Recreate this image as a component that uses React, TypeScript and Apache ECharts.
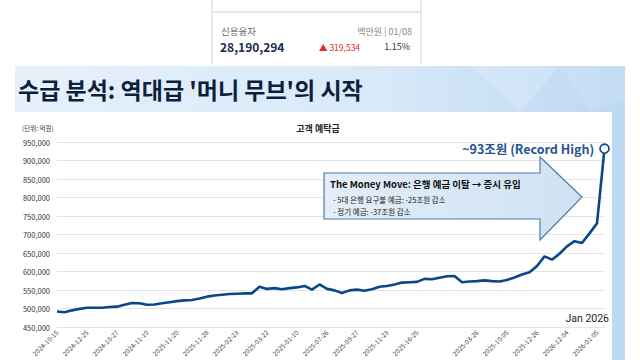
import React, { useEffect, useRef } from "react";
import * as echarts from "echarts";

const tickLabels = [
  "2024-10-15", "2024-12-25", "2024-10-27", "2024-11-10", "2025-11-20",
  "2025-11-28", "2025-02-23", "2025-03-22", "2025-01-10", "2025-07-26",
  "2025-09-27", "2025-11-23", "2025-16-25", "", "2025-03-26",
  "2025-10-05", "2025-12-26", "2026-12-04", "2026-01-05",
];

const deposits = [
  492000, 490000, 495000, 499000, 502000, 502000, 502000, 504000, 505000, 510000,
  515000, 514000, 510000, 511000, 514000, 517000, 520000, 522000, 523000, 527000,
  532000, 535000, 537000, 539000, 540000, 541000, 541000, 559000, 553000, 555000,
  552000, 555000, 557000, 561000, 551000, 565000, 553000, 549000, 542000, 549000,
  551000, 548000, 552000, 559000, 561000, 565000, 570000, 571000, 572000, 580000,
  579000, 583000, 587000, 588000, 571000, 573000, 574000, 576000, 574000, 573000,
  577000, 584000, 592000, 598000, 615000, 641000, 632000, 648000, 668000, 682000,
  677000, 703000, 730000, 932000,
];

const yTicks = { min: 450000, max: 950000, step: 50000 };

const FONT = "'Noto Sans CJK KR', 'Noto Sans', sans-serif";

export default function App() {
  const ref = useRef<HTMLDivElement>(null);
  useEffect(() => {
    if (!ref.current) return;
    const chart = echarts.init(ref.current, null, { renderer: "svg" });
    const categories = deposits.map((_, i) => String(i));
    const lastIdx = deposits.length - 1;
    const seriesData = deposits.map((v, i) =>
      i === lastIdx
        ? {
            value: v,
            symbol: "circle",
            symbolSize: 9,
            itemStyle: { color: "#ffffff", borderColor: "#0a4788", borderWidth: 1.6 },
            label: {
              show: true,
              position: "left",
              distance: 5,
              formatter: "~93조원 (Record High)",
              color: "#24558f",
              fontSize: 12.5,
              fontWeight: "bold",
              fontFamily: FONT,
            },
          }
        : { value: v, symbol: "none" }
    );

    chart.setOption({
      animation: false,
      backgroundColor: "#ffffff",
      textStyle: { fontFamily: FONT },
      grid: { left: 57, right: 35.5, top: 142, bottom: 33, containLabel: false },
      xAxis: {
        type: "category",
        data: categories,
        boundaryGap: false,
        axisLine: { show: false },
        axisTick: { show: false },
        axisLabel: {
          interval: 3,
          rotate: 45,
          fontSize: 6.5,
          color: "#444",
          margin: 4,
          formatter: (_v: string, idx: number) =>
            idx % 4 === 0 ? tickLabels[idx / 4] ?? "" : "",
        },
        splitLine: { show: false },
      },
      yAxis: {
        type: "value",
        min: yTicks.min,
        max: yTicks.max,
        interval: yTicks.step,
        axisLine: { show: false },
        axisTick: { show: false },
        axisLabel: {
          fontSize: 7.5,
          color: "#333",
          margin: 7,
          formatter: (v: number) => v.toLocaleString("en-US"),
        },
        splitLine: { lineStyle: { color: "#e4e4e4", width: 1 } },
      },
      series: [
        {
          type: "line",
          data: seriesData,
          showSymbol: true,
          showAllSymbol: true,
          clip: false,
          smooth: false,
          lineStyle: { color: "#0a4788", width: 2.6 },
          itemStyle: { color: "#0a4788" },
          labelLayout: { hideOverlap: false },
          z: 5,
        },
      ],
      graphic: [
        // top info box
        { type: "line", shape: { x1: 212, y1: 0, x2: 212, y2: 64 }, style: { stroke: "#c9d4e2", lineWidth: 1 }, z: -5 },
        { type: "line", shape: { x1: 421, y1: 0, x2: 421, y2: 64 }, style: { stroke: "#c9d4e2", lineWidth: 1 }, z: -5 },
        { type: "line", shape: { x1: 212, y1: 12, x2: 421, y2: 12 }, style: { stroke: "#e3e8ef", lineWidth: 2 }, z: -5 },
        { type: "text", x: 221, y: 31, style: { text: "신용융자", fontSize: 9.5, fill: "#666", fontFamily: FONT, verticalAlign: "middle" } },
        { type: "text", x: 220, y: 46.5, style: { text: "28,190,294", fontSize: 12, fontWeight: "bold", fill: "#1b2b4d", fontFamily: FONT, verticalAlign: "middle" } },
        { type: "text", x: 412, y: 31, style: { text: "백만원 | 01/08", fontSize: 9, fill: "#888", fontFamily: FONT, align: "right", verticalAlign: "middle" } },
        { type: "text", x: 319, y: 46.5, style: { text: "▲ 319,534", fontSize: 8.5, fill: "#e8262b", fontFamily: FONT, verticalAlign: "middle" } },
        { type: "text", x: 410, y: 46.5, style: { text: "1.15%", fontSize: 9, fill: "#333", fontFamily: FONT, align: "right", verticalAlign: "middle" } },
        // blue banner + right strip
        {
          type: "rect",
          shape: { x: 15, y: 66, width: 610, height: 294 },
          style: {
            fill: new echarts.graphic.LinearGradient(0, 0, 1, 0, [
              { offset: 0, color: "#e6f1fb" },
              { offset: 0.6, color: "#d8e9f8" },
              { offset: 1, color: "#bcd8f2" },
            ]),
          },
          z: -10,
        },
        { type: "polygon", shape: { points: [[470, 66], [560, 66], [520, 111]] }, style: { fill: "rgba(255,255,255,0.18)" }, z: -9 },
        { type: "polygon", shape: { points: [[560, 66], [625, 66], [625, 100], [590, 111]] }, style: { fill: "rgba(255,255,255,0.12)" }, z: -9 },
        { type: "rect", shape: { x: 15, y: 112, width: 597, height: 248 }, style: { fill: "#ffffff" }, z: -8 },
        {
          type: "text", x: 18, y: 89,
          style: { text: "수급 분석: 역대급 '머니 무브'의 시작", fontSize: 23, fontWeight: "bold", fill: "#0e1f3d", fontFamily: FONT, verticalAlign: "middle" },
        },
        // chart header
        { type: "text", x: 22, y: 128, style: { text: "(단위: 억원)", fontSize: 6.5, fill: "#333", fontFamily: FONT, verticalAlign: "middle" } },
        { type: "text", x: 318, y: 128, style: { text: "고객 예탁금", fontSize: 9, fontWeight: "bold", fill: "#222", fontFamily: FONT, align: "center", verticalAlign: "middle" } },
        // arrow
        {
          type: "polygon",
          shape: { points: [[324, 173], [540, 173], [540, 157], [582, 197], [540, 240], [540, 219], [324, 219]] },
          style: {
            fill: new echarts.graphic.LinearGradient(0, 0, 1, 0, [
              { offset: 0, color: "#e3eef8" },
              { offset: 1, color: "#cfe2f3" },
            ]),
            stroke: "#4d7ca8",
            lineWidth: 1.2,
          },
          z: 10,
        },
        { type: "text", x: 330, y: 184, style: { text: "The Money Move: 은행 예금 이탈 → 증시 유입", fontSize: 9.5, fontWeight: "bold", fill: "#111", fontFamily: FONT, verticalAlign: "middle" }, z: 11 },
        { type: "text", x: 333, y: 199, style: { text: "- 5대 은행 요구불 예금: -25조원 감소", fontSize: 7.5, fill: "#222", fontFamily: FONT, verticalAlign: "middle" }, z: 11 },
        { type: "text", x: 333, y: 211, style: { text: "- 정기 예금: -37조원 감소", fontSize: 7.5, fill: "#222", fontFamily: FONT, verticalAlign: "middle" }, z: 11 },
        { type: "text", x: 609, y: 318, style: { text: "Jan 2026", fontSize: 10.5, fill: "#222", fontFamily: "Roboto, sans-serif", align: "right", verticalAlign: "middle" }, z: 11 },
      ],
    });
    return () => chart.dispose();
  }, []);
  return (
    <div
      ref={ref}
      style={{ position: "fixed", left: 0, top: 0, width: 640, height: 360 }}
    />
  );
}
